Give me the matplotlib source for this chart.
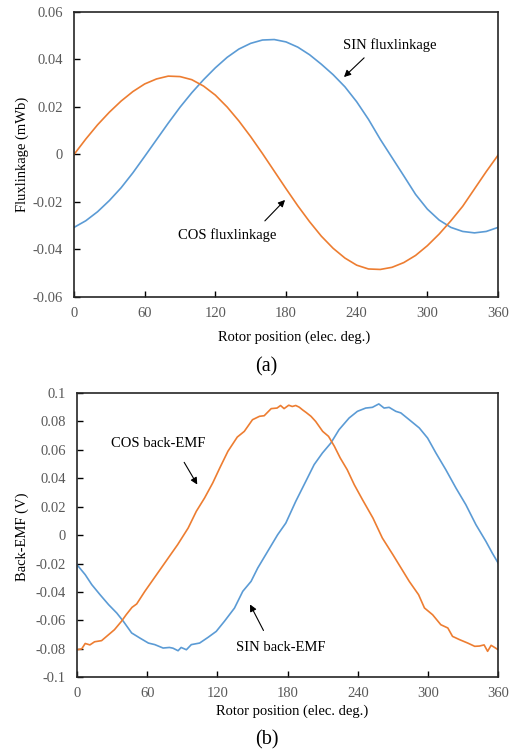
import matplotlib
matplotlib.use("Agg")
import matplotlib.pyplot as plt

plt.rcParams['font.family'] = ['Liberation Serif', 'DejaVu Serif']

# ---------------- data: (a) flux linkage ----------------
flux_deg = [0, 10, 20, 30, 40, 50, 60, 70, 80, 90, 100, 110, 120, 130, 140, 150, 160, 170, 180,
            190, 200, 210, 220, 230, 240, 250, 260, 270, 280, 290, 300, 310, 320, 330, 340, 350, 360]
sin_flux = [-0.0307, -0.0279, -0.0241, -0.0194, -0.0140, -0.0077, -0.0008, 0.0062, 0.0132, 0.0199,
            0.0260, 0.0315, 0.0365, 0.0409, 0.0444, 0.0468, 0.0482, 0.0484, 0.0474, 0.0452,
            0.0420, 0.0380, 0.0336, 0.0285, 0.0222, 0.0148, 0.0064, -0.0013, -0.0090, -0.0168,
            -0.0230, -0.0276, -0.0307, -0.0324, -0.0330, -0.0324, -0.0307]
cos_flux = [0.0000, 0.0065, 0.0125, 0.0178, 0.0225, 0.0265, 0.0297, 0.0318, 0.0330, 0.0328,
            0.0315, 0.0288, 0.0250, 0.0200, 0.0141, 0.0075, 0.0004, -0.0070, -0.0144, -0.0216,
            -0.0283, -0.0344, -0.0395, -0.0436, -0.0466, -0.0482, -0.0484, -0.0475, -0.0455, -0.0425,
            -0.0384, -0.0335, -0.0279, -0.0218, -0.0145, -0.0072, -0.0003]

# ---------------- data: (b) back-EMF ----------------
cos_emf_deg = [0, 4, 7, 11, 15, 21, 27, 32, 38, 42, 47, 51, 58, 65, 72, 80, 86, 95, 102, 109, 116,
               122, 129, 137, 143, 150, 156, 160, 166, 171, 174, 177, 181, 184, 187, 190, 193, 196,
               200, 204, 210, 215, 220, 225, 231, 237, 244, 253, 261, 270, 277, 284, 292, 297, 304,
               311, 317, 321, 327, 334, 340, 344, 348, 351, 354, 357, 360]
cos_emf = [-0.0806, -0.0800, -0.0762, -0.0772, -0.0750, -0.0742, -0.0700, -0.0665, -0.0606, -0.0560,
           -0.0508, -0.0484, -0.0395, -0.0313, -0.0231, -0.0137, -0.0067, 0.0050, 0.0168, 0.0261,
           0.0367, 0.0472, 0.0590, 0.0690, 0.0730, 0.0812, 0.0836, 0.0840, 0.0890, 0.0894, 0.0912,
           0.0890, 0.0914, 0.0905, 0.0912, 0.0900, 0.0880, 0.0862, 0.0836, 0.0800, 0.0730, 0.0695,
           0.0625, 0.0543, 0.0460, 0.0355, 0.0250, 0.0120, -0.0020, -0.0137, -0.0231, -0.0325,
           -0.0419, -0.0512, -0.0560, -0.0630, -0.0653, -0.0712, -0.0735, -0.0759, -0.0782, -0.0780,
           -0.0772, -0.0817, -0.0775, -0.0790, -0.0806]
sin_emf_deg = [0, 7, 12.6, 19.7, 27, 34, 39.6, 46.7, 53.8, 61, 66.5, 73.6, 79, 82, 86.4, 89, 93.5,
               97.7, 104.8, 112, 119, 126, 134.6, 141.7, 148.8, 154.5, 163, 171.5, 178.5, 187,
               195.6, 202.7, 209.8, 217, 224, 232.6, 239.7, 246.8, 252.5, 258, 262.5, 266.8, 272.5,
               276.8, 284, 292.6, 299.7, 306.8, 315.3, 323.9, 332.4, 341, 349.5, 355, 360]
sin_emf = [-0.0208, -0.0278, -0.0348, -0.0419, -0.0489, -0.0548, -0.0606, -0.0688, -0.0724, -0.0759,
           -0.0770, -0.0794, -0.0790, -0.0795, -0.0813, -0.0790, -0.0806, -0.0770, -0.0759, -0.0719,
           -0.0677, -0.0606, -0.0513, -0.0395, -0.0325, -0.0231, -0.0114, 0.0003, 0.0085, 0.0238,
           0.0379, 0.0496, 0.0578, 0.0648, 0.0742, 0.0824, 0.0871, 0.0894, 0.0899, 0.0923, 0.0894,
           0.0899, 0.0871, 0.0860, 0.0812, 0.0754, 0.0683, 0.0578, 0.0460, 0.0332, 0.0214, 0.0074,
           -0.0043, -0.0126, -0.0196]

x_ticks = [0, 60, 120, 180, 240, 300, 360]
flux_ticks = [-0.06, -0.04, -0.02, 0, 0.02, 0.04, 0.06]
flux_labels = ['-0.06', '-0.04', '-0.02', '0', '0.02', '0.04', '0.06']
emf_ticks = [-0.1, -0.08, -0.06, -0.04, -0.02, 0, 0.02, 0.04, 0.06, 0.08, 0.1]
emf_labels = ['-0.1', '-0.08', '-0.06', '-0.04', '-0.02', '0', '0.02', '0.04', '0.06', '0.08', '0.1']

BLUE = '#5B9BD5'
ORANGE = '#ED7D31'
TICKC = '#595959'
FS = 10.5

fig = plt.figure(figsize=(5.19, 7.54), dpi=100)
ax1 = fig.add_axes([0.1426, 0.6061, 0.8170, 0.3780])
ax2 = fig.add_axes([0.1484, 0.1017, 0.8114, 0.3771])


def style(ax, yticks, ylabels):
    ax.set_xlim(0, 360)
    ax.set_xticks(x_ticks)
    ax.set_xticklabels([str(t) for t in x_ticks])
    ax.set_ylim(yticks[0], yticks[-1])
    ax.set_yticks(yticks)
    ax.set_yticklabels(ylabels)
    ax.tick_params(direction='in', length=4, width=1.0, colors='black',
                   labelcolor=TICKC, labelsize=FS, pad=8)
    ax.tick_params(axis='x', pad=7)
    for s in ax.spines.values():
        s.set_linewidth(1.2)
        s.set_color('#262626')


ax1.plot(flux_deg, sin_flux, color=BLUE, lw=1.2)
ax1.plot(flux_deg, cos_flux, color=ORANGE, lw=1.2)
style(ax1, flux_ticks, flux_labels)
ax1.set_xlabel('Rotor position (elec. deg.)', fontsize=FS, va='center')
ax1.xaxis.set_label_coords(0.519, -0.140)
ax1.set_ylabel('Fluxlinkage (mWb)', fontsize=FS, va='center')
ax1.yaxis.set_label_coords(-0.1226, 0.5)

ax1.text(268, 0.0461, 'SIN fluxlinkage', fontsize=FS, ha='center', va='center')
ax1.annotate('', xy=(227.5, 0.0318), xytext=(248, 0.0415),
             arrowprops=dict(arrowstyle='-|>', color='black', lw=0.8, mutation_scale=10))
ax1.text(130, -0.0339, 'COS fluxlinkage', fontsize=FS, ha='center', va='center')
ax1.annotate('', xy=(180.8, -0.0183), xytext=(160.4, -0.0288),
             arrowprops=dict(arrowstyle='-|>', color='black', lw=0.8, mutation_scale=10))

ax2.plot(sin_emf_deg, sin_emf, color=BLUE, lw=1.2)
ax2.plot(cos_emf_deg, cos_emf, color=ORANGE, lw=1.2)
style(ax2, emf_ticks, emf_labels)
ax2.set_xlabel('Rotor position (elec. deg.)', fontsize=FS, va='center')
ax2.xaxis.set_label_coords(0.511, -0.121)
ax2.set_ylabel('Back-EMF (V)', fontsize=FS, va='center')
ax2.yaxis.set_label_coords(-0.131, 0.493)

ax2.text(69, 0.0648, 'COS back-EMF', fontsize=FS, ha='center', va='center')
ax2.annotate('', xy=(104, 0.0339), xytext=(90.4, 0.0529),
             arrowprops=dict(arrowstyle='-|>', color='black', lw=0.8, mutation_scale=10))
ax2.text(174, -0.0787, 'SIN back-EMF', fontsize=FS, ha='center', va='center')
ax2.annotate('', xy=(146.8, -0.047), xytext=(160.5, -0.0688),
             arrowprops=dict(arrowstyle='-|>', color='black', lw=0.8, mutation_scale=10))

fig.text(0.5138, 0.5133, '(a)', fontsize=14.5, ha='center', va='center')
fig.text(0.5144, 0.0186, '(b)', fontsize=14.5, ha='center', va='center')

fig.savefig('out.png', dpi=100)
